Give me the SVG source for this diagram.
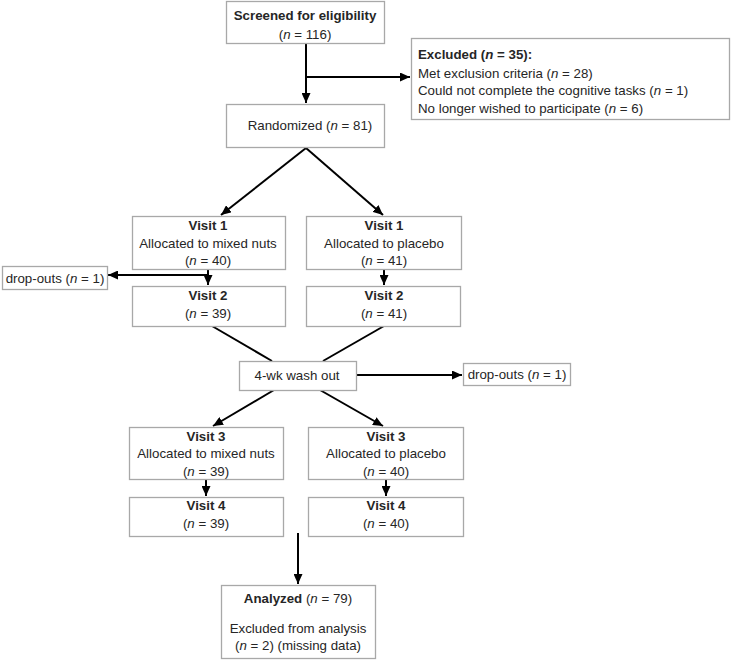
<svg xmlns="http://www.w3.org/2000/svg" width="732" height="660" viewBox="0 0 732 660">
<style>
rect.box{fill:#fff;stroke:#a8a8a8;stroke-width:1.3}
text{font-family:"Liberation Sans",Arial,sans-serif;font-size:13.3px;fill:#262626}
text.c{text-anchor:middle}
.b{font-weight:bold}
.i{font-style:italic}
#connectors line{stroke:#000;stroke-width:2;fill:none}
</style>
<defs>
<marker id="ah" markerUnits="userSpaceOnUse" markerWidth="10" markerHeight="9" refX="10" refY="4.5" orient="auto">
<path d="M0,0 L10,4.5 L0,9 z" fill="#000"/>
</marker>
</defs>
<g id="connectors">
<line x1="306" y1="44" x2="306" y2="103" marker-end="url(#ah)"/>
<line x1="306" y1="77" x2="410" y2="77" marker-end="url(#ah)"/>
<line x1="306" y1="148" x2="221" y2="215" marker-end="url(#ah)"/>
<line x1="306" y1="148" x2="383" y2="215" marker-end="url(#ah)"/>
<line x1="208" y1="269" x2="208" y2="285" marker-end="url(#ah)"/>
<line x1="209" y1="275" x2="108" y2="275" marker-end="url(#ah)"/>
<line x1="384" y1="269" x2="384" y2="285" marker-end="url(#ah)"/>
<line x1="212" y1="326" x2="272" y2="361"/>
<line x1="384" y1="326" x2="323" y2="361"/>
<line x1="356" y1="375" x2="462" y2="375" marker-end="url(#ah)"/>
<line x1="274" y1="390" x2="213" y2="426" marker-end="url(#ah)"/>
<line x1="320" y1="390" x2="383" y2="426" marker-end="url(#ah)"/>
<line x1="206" y1="479" x2="206" y2="496" marker-end="url(#ah)"/>
<line x1="386" y1="479" x2="386" y2="496" marker-end="url(#ah)"/>
<line x1="298" y1="533" x2="298" y2="584" marker-end="url(#ah)"/>
</g>
<g id="screened">
<rect class="box" x="226.5" y="1.5" width="158" height="42"/>
<text class="c b" x="305" y="20">Screened for eligibility</text>
<text class="c" x="305" y="39">(<tspan class="i">n</tspan> = 116)</text>
</g>
<g id="excluded">
<rect class="box" x="411.5" y="38.5" width="318" height="81"/>
<text x="418" y="59"><tspan class="b">Excluded (<tspan class="i">n</tspan> = 35):</tspan></text>
<text x="418" y="78">Met exclusion criteria (<tspan class="i">n</tspan> = 28)</text>
<text x="418" y="95">Could not complete the cognitive tasks (<tspan class="i">n</tspan> = 1)</text>
<text x="418" y="113">No longer wished to participate (<tspan class="i">n</tspan> = 6)</text>
</g>
<g id="randomized">
<rect class="box" x="226.5" y="104.5" width="158" height="43"/>
<text class="c" x="310" y="130">Randomized (<tspan class="i">n</tspan> = 81)</text>
</g>
<g id="visit1-nuts">
<rect class="box" x="132.5" y="216.5" width="153" height="53"/>
<text class="c b" x="208" y="230">Visit 1</text>
<text class="c" x="208" y="248">Allocated to mixed nuts</text>
<text class="c" x="208" y="265">(<tspan class="i">n</tspan> = 40)</text>
</g>
<g id="visit1-placebo">
<rect class="box" x="306.5" y="216.5" width="155" height="53"/>
<text class="c b" x="384" y="230">Visit 1</text>
<text class="c" x="384" y="248">Allocated to placebo</text>
<text class="c" x="384" y="265">(<tspan class="i">n</tspan> = 41)</text>
</g>
<g id="dropouts1">
<rect class="box" x="2.5" y="266.5" width="105" height="23"/>
<text class="c" x="55" y="283">drop-outs (<tspan class="i">n</tspan> = 1)</text>
</g>
<g id="visit2-nuts">
<rect class="box" x="132.5" y="286.5" width="153" height="40"/>
<text class="c b" x="208" y="300">Visit 2</text>
<text class="c" x="208" y="318">(<tspan class="i">n</tspan> = 39)</text>
</g>
<g id="visit2-placebo">
<rect class="box" x="306.5" y="286.5" width="154" height="40"/>
<text class="c b" x="384" y="300">Visit 2</text>
<text class="c" x="384" y="318">(<tspan class="i">n</tspan> = 41)</text>
</g>
<g id="washout">
<rect class="box" x="239.5" y="361.5" width="117" height="29"/>
<text class="c" x="297" y="380">4-wk wash out</text>
</g>
<g id="dropouts2">
<rect class="box" x="463.5" y="363.5" width="107" height="22"/>
<text class="c" x="517" y="379">drop-outs (<tspan class="i">n</tspan> = 1)</text>
</g>
<g id="visit3-nuts">
<rect class="box" x="129.5" y="427.5" width="154" height="52"/>
<text class="c b" x="206" y="441">Visit 3</text>
<text class="c" x="206" y="458">Allocated to mixed nuts</text>
<text class="c" x="206" y="476">(<tspan class="i">n</tspan> = 39)</text>
</g>
<g id="visit3-placebo">
<rect class="box" x="308.5" y="427.5" width="155" height="52"/>
<text class="c b" x="386" y="441">Visit 3</text>
<text class="c" x="386" y="458">Allocated to placebo</text>
<text class="c" x="386" y="476">(<tspan class="i">n</tspan> = 40)</text>
</g>
<g id="visit4-nuts">
<rect class="box" x="129.5" y="497.5" width="154" height="39"/>
<text class="c b" x="206" y="510">Visit 4</text>
<text class="c" x="206" y="528">(<tspan class="i">n</tspan> = 39)</text>
</g>
<g id="visit4-placebo">
<rect class="box" x="308.5" y="497.5" width="155" height="39"/>
<text class="c b" x="386" y="510">Visit 4</text>
<text class="c" x="386" y="528">(<tspan class="i">n</tspan> = 40)</text>
</g>
<g id="analyzed">
<rect class="box" x="221.5" y="585.5" width="154" height="73"/>
<text class="c" x="298" y="603"><tspan class="b">Analyzed</tspan> (<tspan class="i">n</tspan> = 79)</text>
<text class="c" x="298" y="633">Excluded from analysis</text>
<text class="c" x="298" y="650">(<tspan class="i">n</tspan> = 2) (missing data)</text>
</g>
</svg>
